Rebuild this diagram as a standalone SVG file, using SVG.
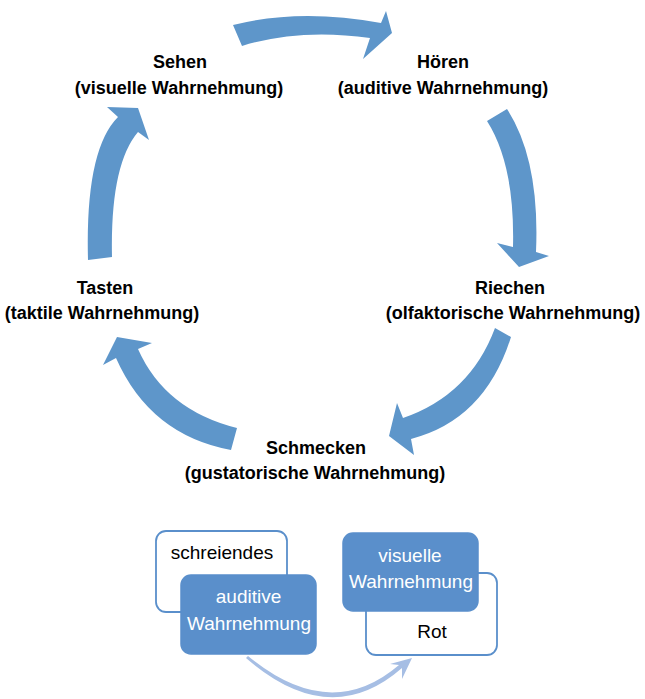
<svg xmlns="http://www.w3.org/2000/svg" width="645" height="699" viewBox="0 0 645 699">
<style>
.lbl{font-family:"Liberation Sans",Arial,sans-serif;font-weight:bold;font-size:18px;fill:#000;text-anchor:middle}
.box{font-family:"Liberation Sans",Arial,sans-serif;font-size:19px;text-anchor:middle}
.cyc{fill:#5E96CA;stroke:none}
.fill{fill:#5A8FCB;stroke:#5A8FCB;stroke-width:1.5}
.out{fill:#fff;stroke:#5A8FCB;stroke-width:1.8}
.flow{fill:#A6BEE4;stroke:none}
</style>
<rect width="645" height="699" fill="#fff"/>
<g id="connectors">
<path class="cyc" d="M233,25 Q300,8 381,23 L386,11 L392,33 L363,59 L370,38 Q300,28 242,46 Z"/>
<path class="cyc" d="M487,121 Q515,165 513,247 L497,243 L519,267 L549,256 L536,252 Q540,160 507,109 Z"/>
<path class="cyc" d="M495,328 Q470,395 403,418 L397,403 L389,436 L414,455 L411,439 Q485,420 511,337 Z"/>
<path class="cyc" d="M237,428 Q165,410 138,349 L152,343 L117,337 L103,365 L116,358 Q150,435 231,450 Z"/>
<path class="cyc" d="M88,260 Q85,150 118,117 L107,107 L138,108 L149,140 L138,132 Q110,165 112,257 Z"/>
<path class="flow" d="M246,658 Q330,731 402,668 L402,679 L412,658 L390,664 L399,665 Q330,724 248,656 Z"/>
</g>
<g id="sehen"><text class="lbl" x="180" y="68">Sehen</text><text class="lbl" x="179" y="94">(visuelle Wahrnehmung)</text></g>
<g id="hoeren"><text class="lbl" x="443" y="68">Hören</text><text class="lbl" x="443" y="94">(auditive Wahrnehmung)</text></g>
<g id="riechen"><text class="lbl" x="510" y="294">Riechen</text><text class="lbl" x="513" y="319">(olfaktorische Wahrnehmung)</text></g>
<g id="schmecken"><text class="lbl" x="316" y="454">Schmecken</text><text class="lbl" x="315" y="479">(gustatorische Wahrnehmung)</text></g>
<g id="tasten"><text class="lbl" x="105" y="294">Tasten</text><text class="lbl" x="102" y="319">(taktile Wahrnehmung)</text></g>
<g id="schreiendes"><rect class="out" x="156" y="531" width="131" height="81" rx="10"/><text class="box" x="222" y="559" fill="#000">schreiendes</text></g>
<g id="auditive"><rect class="fill" x="181" y="575" width="135" height="79" rx="10"/><text class="box" x="248.5" y="603" fill="#fff">auditive</text><text class="box" x="249" y="630" fill="#fff">Wahrnehmung</text></g>
<g id="rot"><rect class="out" x="366" y="573" width="131" height="82" rx="10"/><text class="box" x="432" y="638" fill="#000">Rot</text></g>
<g id="visuelle"><rect class="fill" x="343" y="533" width="135" height="78" rx="10"/><text class="box" x="410" y="562" fill="#fff">visuelle</text><text class="box" x="411" y="588" fill="#fff">Wahrnehmung</text></g>
</svg>
